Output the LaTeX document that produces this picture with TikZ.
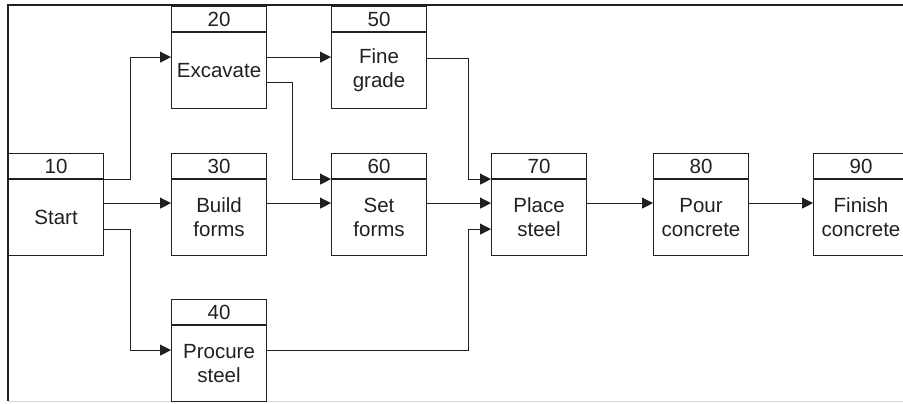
\documentclass[tikz,border=0pt]{standalone}
\usepackage{fontspec}
\setmainfont{Liberation Sans}
\usetikzlibrary{calc,arrows.meta}
\definecolor{ink}{HTML}{231F20}
\begin{document}
\begin{tikzpicture}[x=1pt,y=-1pt,
  hdr/.style={draw=ink, line width=1.1pt, rectangle, minimum width=95pt, minimum height=25pt, inner sep=0pt, anchor=north west, font={\fontsize{20.5}{24}\selectfont}, text=ink},
  bodybox/.style={draw=ink, line width=1.1pt, rectangle, minimum width=95pt, minimum height=76pt, inner sep=0pt, anchor=north west, align=center, font={\fontsize{20.5}{24}\selectfont}, text=ink},
  arr/.style={draw=ink, line width=0.9pt, -{Triangle[length=11pt,width=11pt]}},
  wire/.style={draw=ink, line width=0.9pt}]
\useasboundingbox (0,0) rectangle (903,404);
\clip (0,0) rectangle (903,404);
% frame
\draw[draw=ink, line width=1.3pt] (903,5) -- (8,5) -- (8,401);
\draw[draw=black!15, line width=1pt] (8,401) -- (903,401);
% boxes
\node[hdr] (h10) at (8,153) {10};
\node[bodybox] (b10) at (h10.south west) {Start};
\node[hdr] (h20) at (171,6) {20};
\node[bodybox] (b20) at (h20.south west) {Excavate};
\node[hdr] (h30) at (171,153) {30};
\node[bodybox] (b30) at (h30.south west) {Build\\forms};
\node[hdr] (h40) at (171,299) {40};
\node[bodybox] (b40) at (h40.south west) {Procure\\steel};
\node[hdr] (h50) at (331,6) {50};
\node[bodybox] (b50) at (h50.south west) {Fine\\grade};
\node[hdr] (h60) at (331,153) {60};
\node[bodybox] (b60) at (h60.south west) {Set\\forms};
\node[hdr] (h70) at (491,153) {70};
\node[bodybox] (b70) at (h70.south west) {Place\\steel};
\node[hdr] (h80) at (653,153) {80};
\node[bodybox] (b80) at (h80.south west) {Pour\\concrete};
\node[hdr] (h90) at (813,153) {90};
\node[bodybox] (b90) at (h90.south west) {Finish\\concrete};
% connectors
\draw[arr] (b10.north east) -- ++(26,0) |- ($(b20.north west)+(0,25)$);
\draw[arr] ($(b10.north east)+(0,24)$) -- ($(b30.north west)+(0,24)$);
\draw[arr] ($(b10.north east)+(0,50)$) -- ++(26,0) |- ($(b40.north west)+(0,25)$);
\draw[arr] ($(b20.north east)+(0,25)$) -- ($(b50.north west)+(0,25)$);
\draw[arr] ($(b20.north east)+(0,50)$) -- ++(25,0) |- (b60.north west);
\draw[arr] ($(b30.north east)+(0,24)$) -- ($(b60.north west)+(0,24)$);
\draw[arr] ($(b50.north east)+(0,26)$) -- ++(41,0) |- (b70.north west);
\draw[arr] ($(b60.north east)+(0,24)$) -- ($(b70.north west)+(0,24)$);
\draw[arr] ($(b40.north east)+(0,25)$) -- ++(201,0) |- ($(b70.north west)+(0,50)$);
\draw[arr] ($(b70.north east)+(0,24)$) -- ($(b80.north west)+(0,24)$);
\draw[arr] ($(b80.north east)+(0,24)$) -- ($(b90.north west)+(0,24)$);
\end{tikzpicture}
\end{document}
